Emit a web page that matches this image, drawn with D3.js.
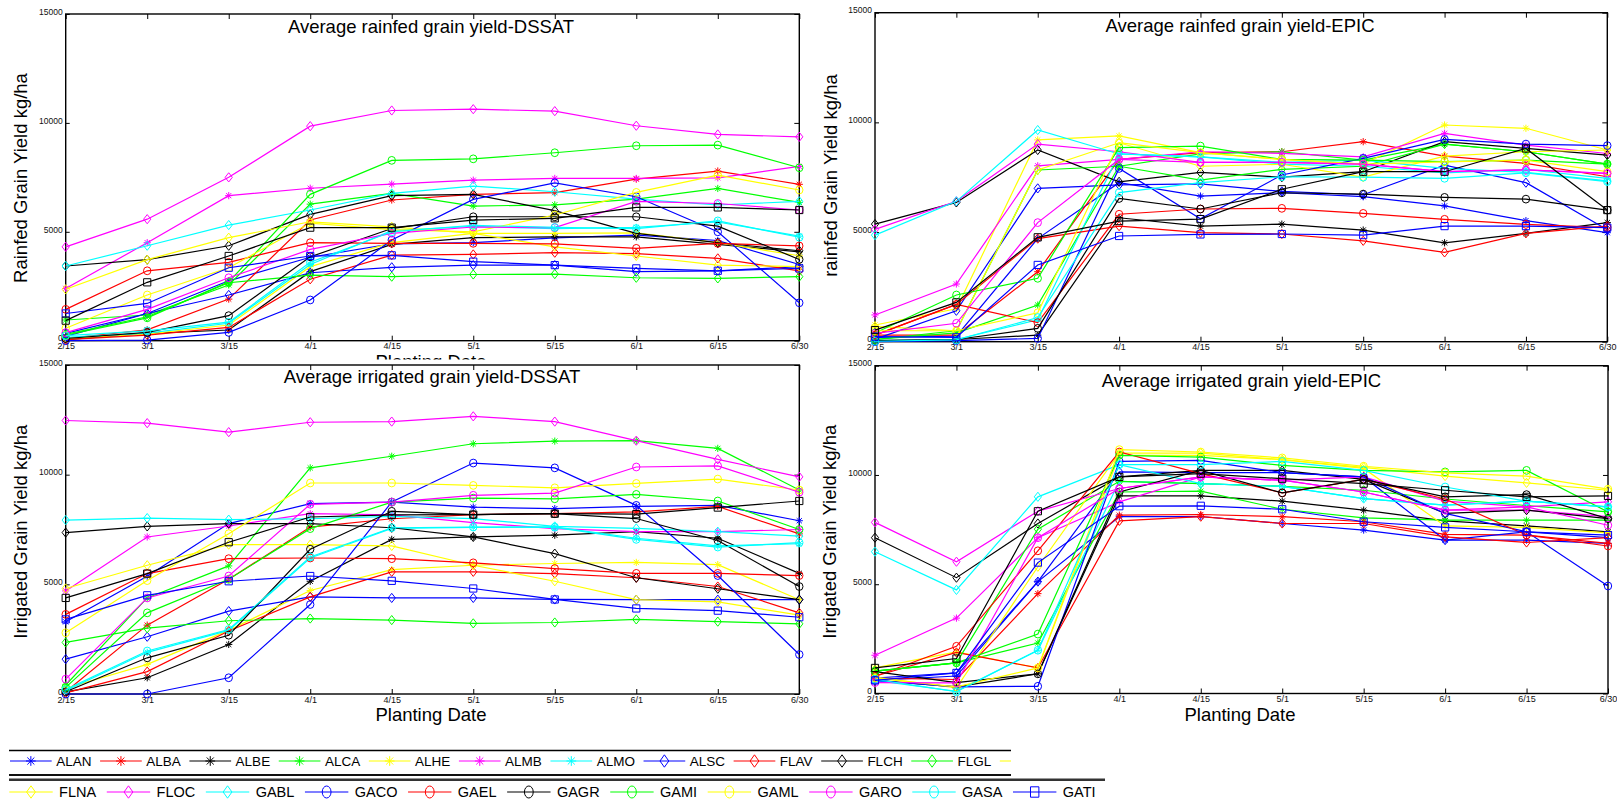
<!DOCTYPE html>
<html><head><meta charset="utf-8">
<script src="https://cdn.jsdelivr.net/npm/d3@7"></script>
<style>body{margin:0;background:#fff}svg{display:block}text{font-family:"Liberation Sans",Arial,Helvetica,sans-serif}</style>
</head><body><svg id="c" width="1617" height="803"></svg>
<script>
// ---------------- data ----------------
const dates = ["2/15","3/1","3/15","4/1","4/15","5/1","5/15","6/1","6/15","6/30"];
const yTicks = [0, 5000, 10000, 15000];
// legend names (the 23rd series' name is clipped away in the reference legend)
const seriesNames = ["ALAN","ALBA","ALBE","ALCA","ALHE","ALMB","ALMO","ALSC","FLAV","FLCH","FLGL",
                     "FLNA","FLOC","GABL","GACO","GAEL","GAGR","GAMI","GAML","GARO","GASA","GATI",null];
const seriesColors = ["b","r","k","g","y","m","c","b","r","k","g","y","m","c","b","r","k","g","y","m","c","b","k"];
const seriesMarkers = ["star","star","star","star","star","star","star",
                       "diamond","diamond","diamond","diamond","diamond","diamond","diamond",
                       "circle","circle","circle","circle","circle","circle","circle","square","square"];

const rainfedDSSAT = [
 [200,1250,2750,3830,4450,4500,4720,4850,4600,3500],
 [100,500,1910,5540,6460,6720,6800,7420,7790,7180],
 [50,340,490,3170,4420,4730,4770,4770,4420,4080],
 [950,1180,2560,6270,6760,6180,6240,6500,6990,6350],
 [100,300,720,3400,4500,4930,4930,4950,4500,3900],
 [2400,4500,6660,7000,7190,7370,7450,7450,7480,8000],
 [150,350,800,3500,5050,5250,5150,5200,5450,4800],
 [340,1250,2100,3120,3370,3470,3470,3170,3210,3400],
 [50,260,610,2820,3930,3960,4040,4000,3780,3210],
 [3430,3720,4360,5800,6660,6720,5970,4930,4500,4130],
 [290,1100,2660,3010,2940,3040,3060,2890,2860,2940],
 [2360,3720,4730,5460,5230,4930,4310,3890,3470,3400],
 [4310,5580,7500,9850,10570,10630,10540,9870,9470,9360],
 [3430,4360,5310,6000,6760,7100,6840,6500,6230,6400],
 [0,30,380,1870,4620,6490,7250,6610,5000,1740],
 [1440,3210,3600,4500,4470,4470,4450,4240,4470,4350],
 [100,380,1150,3850,5150,5690,5690,5690,5260,3730],
 [250,1050,2700,6720,8280,8350,8630,8950,8980,7940],
 [570,2100,3350,5400,5100,5000,5770,6810,7600,6920],
 [370,1440,2890,4190,4930,5220,5190,6400,6300,6000],
 [230,450,850,3600,5000,5300,5200,5150,5500,4750],
 [1250,1710,3350,3890,3920,3630,3470,3320,3210,3320],
 [920,2680,3890,5190,5190,5540,5620,6120,6120,6000]
];
const rainfedEPIC = [
 [200,250,4700,7250,6640,6790,6610,6190,5520,4970],
 [300,300,3190,8310,8620,8660,9120,8460,8130,7520],
 [50,100,300,5650,5270,5360,5090,4510,4940,5430],
 [100,400,1670,8000,8560,8660,8280,9010,8660,8100],
 [760,1500,9200,9380,8620,8310,8100,9880,9730,8740],
 [1220,2630,8020,8310,8660,8590,8430,9500,8960,8580],
 [50,100,1000,8560,8430,8100,8000,7700,7850,7450],
 [120,1410,6990,7150,7200,6850,6700,8050,7250,5100],
 [300,1700,4700,5270,4970,4910,4600,4070,4940,5270],
 [5360,6350,8740,7290,7720,7500,7750,9120,8810,8510],
 [100,500,7830,8000,7370,7860,8000,9010,8660,8100],
 [700,500,7830,9070,8000,8090,7500,8460,8660,8740],
 [5120,6400,9010,8660,8180,8180,8100,7750,7830,7670],
 [4860,6400,9650,8560,8430,8180,8280,7900,7720,7330],
 [0,50,150,7900,5600,7600,8360,9220,9010,8940],
 [300,1700,870,5810,6050,6080,5850,5580,5350,5200],
 [50,100,610,6530,6050,6790,6730,6580,6500,6000],
 [400,2130,2890,8850,8920,8310,8280,8210,8280,8100],
 [500,500,1320,9070,8620,8310,8100,8200,8280,7750],
 [380,840,5430,8310,8180,8180,8100,7750,7830,7670],
 [20,80,1100,6800,7250,7520,7500,7450,7700,7300],
 [230,200,3500,4820,4890,4910,4860,5270,5270,5200],
 [530,1790,4760,5500,5590,6950,7750,7750,8810,6000]
];
const irrigatedDSSAT = [
 [3290,5370,7770,8680,8750,8520,8450,8550,8600,7900],
 [100,3140,5230,7610,7990,8180,8220,8300,8550,7300],
 [100,740,2260,5140,7050,7160,7240,7400,7100,5500],
 [410,4380,5840,10310,10840,11410,11530,11550,11200,9300],
 [260,1350,2900,4720,5670,5870,5950,6000,5900,4300],
 [4700,7160,7660,8220,8170,7810,7540,7400,7400,7500],
 [150,1900,2900,6200,7550,7600,7620,7100,6750,6850],
 [1590,2610,3780,4430,4380,4380,4310,4300,4300,4300],
 [50,1020,2870,4430,5570,5570,5490,5300,4900,3700],
 [7360,7640,7770,7770,7580,7160,6400,5300,4800,4300],
 [2350,3000,3340,3440,3370,3220,3260,3400,3300,3200],
 [4810,5870,6810,6810,6750,5870,5140,4300,4200,3600],
 [12470,12350,11940,12390,12420,12660,12420,11550,10700,9900],
 [7930,8020,7950,7990,8100,8000,7640,7550,7400,7200],
 [0,0,740,4080,8750,10530,10310,8600,5400,1800],
 [3630,5490,6170,6200,6170,5980,5720,5500,5500,5400],
 [100,1650,2680,6600,8330,8180,8220,8000,7000,4900],
 [300,3700,5230,7540,8750,8930,8900,9100,8800,7500],
 [2790,5170,7310,9620,9620,9510,9400,9600,9800,9300],
 [680,4380,5380,8650,8750,9060,9160,10350,10400,9200],
 [200,1960,2940,6250,7580,7610,7600,7050,6700,6900],
 [3400,4500,5140,5380,5160,4810,4310,3900,3800,3500],
 [4380,5490,6920,8070,8170,8180,8220,8200,8500,8800]
];
const irrigatedEPIC = [
 [600,800,5120,8090,8100,7780,7480,7020,7020,6870],
 [700,640,4570,8160,8190,8090,7860,7280,7250,6870],
 [600,300,900,9040,9040,8800,8390,7900,7670,7400],
 [1020,1400,2310,9220,9260,8430,8040,7930,7930,7930],
 [1170,1900,1170,10900,10900,10700,10300,7670,7600,7350],
 [1750,3450,7130,8770,9910,9760,9220,8390,8390,8090],
 [600,100,1980,9710,9600,9480,8920,8620,8800,8540],
 [710,940,5120,10140,10110,10110,9910,7020,7400,7130],
 [790,1880,1170,7900,8090,7780,7780,7170,6910,7130],
 [7130,5300,7780,9910,10210,10210,9800,8240,8390,8000],
 [1020,1400,7520,9710,9600,9480,9300,8900,8600,8310],
 [750,260,5800,11000,11000,10700,10350,9950,9640,9300],
 [7830,6030,8340,9380,9910,9760,9910,8800,8540,8770],
 [6490,4740,9000,10470,9600,9480,8920,8620,8800,8540],
 [600,300,330,10620,10670,10110,9910,8240,7400,4920],
 [790,2160,6530,11050,10060,9180,9800,8900,7250,6750],
 [1000,500,900,9220,10210,9180,9800,9000,9100,8000],
 [1020,1400,2720,10900,10820,10440,10210,10140,10210,8310],
 [700,300,1170,11160,11050,10780,10400,10100,9950,9350],
 [500,490,7130,9380,9910,9760,9220,8390,8540,7700],
 [650,80,1980,10470,10470,10620,10210,9450,8800,8540],
 [600,940,5990,8570,8590,8430,7860,7600,7400,7250],
 [1170,1600,8340,9910,10060,9830,9600,9300,9000,9040]
];

// ---------------- styles / layout ----------------
const colorMap = {b:"#0000ff", r:"#ff0000", k:"#000000", g:"#00ff00", y:"#ffff00", m:"#ff00ff", c:"#00ffff"};
const panels = [
 {data: rainfedDSSAT, title: "Average rainfed grain yield-DSSAT", ylabel: "Rainfed Grain Yield kg/ha",
  box: [65.7, 14, 799.3, 340.7], titleX: 431, titleY: 32.7, ylabX: 27, ylabY: 178, xlabel: true, xlabClip: true},
 {data: rainfedEPIC, title: "Average rainfed grain yield-EPIC", ylabel: "rainfed Grain Yield kg/ha",
  box: [875, 12.7, 1607.3, 341.7], titleX: 1240, titleY: 31.7, ylabX: 836.5, ylabY: 175.5, xlabel: false},
 {data: irrigatedDSSAT, title: "Average irrigated grain yield-DSSAT", ylabel: "Irrigated Grain Yield kg/ha",
  box: [65.7, 365, 799.3, 694], titleX: 432, titleY: 383.3, ylabX: 27, ylabY: 531.7, xlabel: true},
 {data: irrigatedEPIC, title: "Average irrigated grain yield-EPIC", ylabel: "Irrigated Grain Yield kg/ha",
  box: [875, 365.7, 1608, 693.5], titleX: 1241.5, titleY: 386.7, ylabX: 835.5, ylabY: 531.7, xlabel: true}
];

const svg = d3.select("#c");
svg.append("rect").attr("width",1617).attr("height",803).attr("fill","#fff");
const defs = svg.append("defs");
defs.append("clipPath").attr("id","tlx").append("rect").attr("x",0).attr("y",0).attr("width",830).attr("height",359.5);
defs.append("clipPath").attr("id","leg1").append("rect").attr("x",0).attr("y",740).attr("width",1011).attr("height",40);
defs.append("clipPath").attr("id","leg2").append("rect").attr("x",0).attr("y",777).attr("width",1104).attr("height",30);

function markerPath(type, big) {
  const k = big ? 1.35 : 1;
  if (type === "star") {
    const s = 3.6*k, a = 2.6*k;
    return `M${-s},0H${s}M0,${-s}V${s}M${-a},${-a}L${a},${a}M${-a},${a}L${a},${-a}`;
  }
  if (type === "diamond") {
    const w = big ? 4.4 : 3.6, h = big ? 6.2 : 4.6;
    return `M0,${-h}L${w},0L0,${h}L${-w},0Z`;
  }
  if (type === "circle") {
    const rx = big ? 4.4 : 3.7, ry = big ? 6 : 3.9;
    return `M${-rx},0A${rx},${ry} 0 1,0 ${rx},0A${rx},${ry} 0 1,0 ${-rx},0Z`;
  }
  const w = big ? 4.2 : 3.6, h = big ? 5.2 : 3.6;
  return `M${-w},${-h}H${w}V${h}H${-w}Z`;
}

function drawPanel(p) {
  const [x0, y0, x1, y1] = p.box;
  const x = d3.scalePoint().domain(dates).range([x0, x1]);
  const y = d3.scaleLinear().domain([0, 15000]).range([y1, y0]);
  const g = svg.append("g");

  const style = a => { a.select(".domain").remove(); a.selectAll("line").attr("stroke","#000").attr("stroke-width",1); a.selectAll("text").attr("fill","#111"); };
  g.append("g").attr("transform",`translate(0,${y1})`)
    .call(d3.axisBottom(x).tickSize(-5).tickPadding(2.2))
    .attr("font-size", 9).attr("font-family", "Liberation Sans, Arial, sans-serif").call(style);
  g.append("g").attr("transform",`translate(0,${y0})`)
    .call(d3.axisTop(x).tickSize(-5).tickFormat("")).call(style);
  g.append("g").attr("transform",`translate(${x0},0)`)
    .call(d3.axisLeft(y).tickValues(yTicks).tickSize(-4).tickPadding(3).tickFormat(d3.format("d")))
    .attr("font-size", 8.5).attr("font-family", "Liberation Sans, Arial, sans-serif").call(style)
    .call(a => a.selectAll("text").attr("y", -2.5));
  g.append("g").attr("transform",`translate(${x1},0)`)
    .call(d3.axisRight(y).tickValues(yTicks).tickSize(-5).tickFormat("")).call(style);

  g.append("rect").attr("x",x0).attr("y",y0).attr("width",x1-x0).attr("height",y1-y0)
    .attr("fill","none").attr("stroke","#000").attr("stroke-width",1.4);

  const line = d3.line().x((d,i) => x(dates[i])).y(d => y(d));
  p.data.forEach((vals, si) => {
    const col = colorMap[seriesColors[si]];
    const sg = g.append("g");
    sg.append("path").attr("d", line(vals)).attr("fill","none").attr("stroke",col).attr("stroke-width",1.2);
    sg.selectAll("path.m").data(vals).join("path").attr("class","m")
      .attr("transform",(d,i) => `translate(${x(dates[i])},${y(d)})`)
      .attr("d", markerPath(seriesMarkers[si], false))
      .attr("fill","none").attr("stroke",col).attr("stroke-width",1);
  });

  g.append("text").attr("x",p.titleX).attr("y",p.titleY).attr("text-anchor","middle")
    .attr("font-size",18.5).attr("fill","#000").text(p.title);
  g.append("text").attr("transform",`translate(${p.ylabX},${p.ylabY}) rotate(-90)`).attr("text-anchor","middle")
    .attr("font-size",18.5).attr("fill","#000").text(p.ylabel);
  if (p.xlabel) {
    const t = g.append("text").attr("x",(x0+x1)/2 - 1.5).attr("y", y1 + 27).attr("text-anchor","middle")
      .attr("font-size",18.5).attr("fill","#000").text("Planting Date");
    if (p.xlabClip) t.attr("clip-path","url(#tlx)");
  }
}
panels.forEach(drawPanel);

// ---------------- legend (two clipped horizontal legend boxes) ----------------
function drawLegend(items, opt) {
  const g = svg.append("g").attr("clip-path", `url(#${opt.clip})`);
  let cx = opt.x;
  items.forEach(si => {
    const col = colorMap[seriesColors[si]];
    g.append("line").attr("x1",cx).attr("x2",cx+opt.lineLen).attr("y1",opt.my).attr("y2",opt.my)
      .attr("stroke",col).attr("stroke-width",1.2);
    g.append("path").attr("transform",`translate(${cx+opt.lineLen/2},${opt.my})`)
      .attr("d", markerPath(seriesMarkers[si], true)).attr("fill","none").attr("stroke",col).attr("stroke-width",1);
    const t = g.append("text").attr("x",cx+opt.lineLen+opt.gapText).attr("y",opt.ty)
      .attr("font-size",opt.fs).attr("fill","#000").text(seriesNames[si]);
    cx = cx + opt.lineLen + opt.gapText + t.node().getComputedTextLength() + opt.gapNext;
  });
}
// box lines
svg.append("line").attr("x1",9).attr("x2",1011).attr("y1",750.5).attr("y2",750.5).attr("stroke","#000").attr("stroke-width",1.4);
svg.append("line").attr("x1",9).attr("x2",1011).attr("y1",775).attr("y2",775).attr("stroke","#111").attr("stroke-width",2.2);
svg.append("line").attr("x1",9).attr("x2",1105).attr("y1",779.8).attr("y2",779.8).attr("stroke","#333").attr("stroke-width",2.4);

const row1 = d3.range(0, 12);   // ALAN ... FLGL, then FLNA clipped
const row2 = d3.range(11, 22);  // FLNA ... GATI (clipped)
drawLegend(row1, {x:10, lineLen:41.7, gapText:4.5, gapNext:8.6, my:761, ty:766, fs:13.5, clip:"leg1"});
drawLegend(row2, {x:9.3, lineLen:43.4, gapText:6.4, gapNext:10.6, my:792, ty:796.8, fs:14.5, clip:"leg2"});
</script></body></html>
